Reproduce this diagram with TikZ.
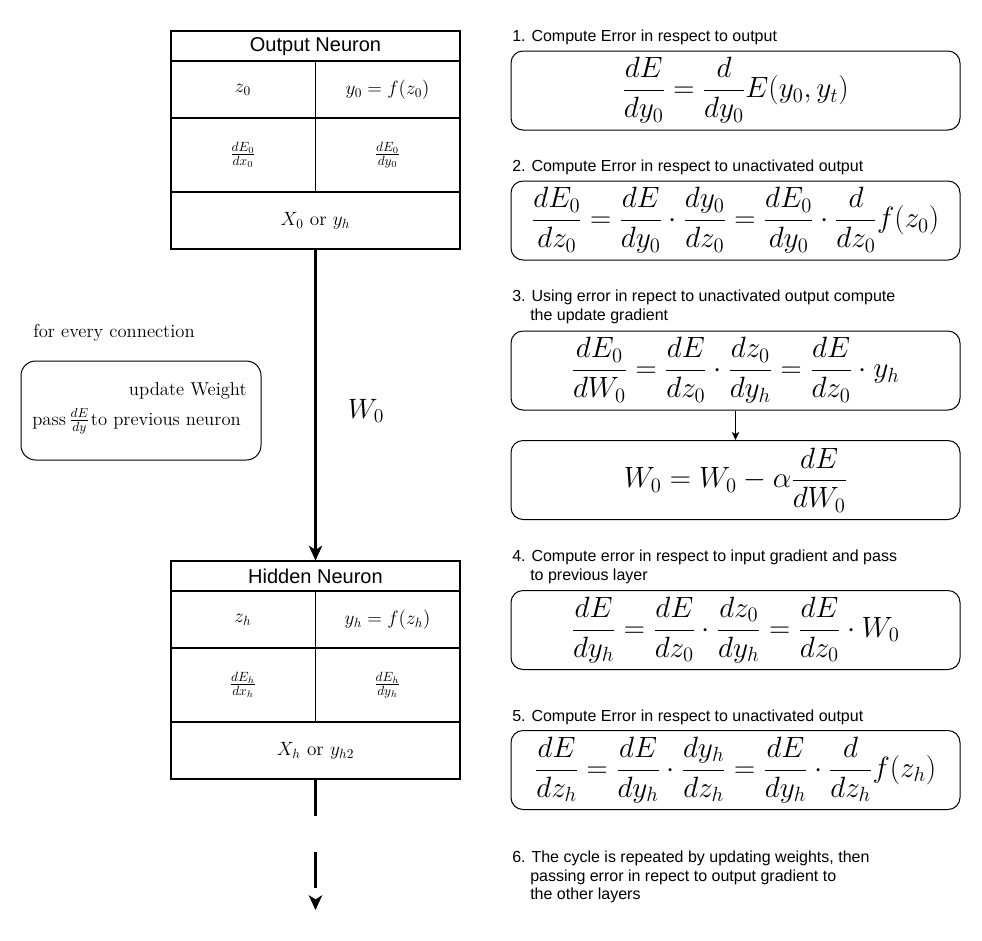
\RequirePackage{fix-cm}
\documentclass[tikz,border=0pt]{standalone}
\usepackage{fontspec}
\newfontfamily\sansfont{Liberation Sans}
\usetikzlibrary{arrows.meta}

\begin{document}
\begin{tikzpicture}[x=0.75pt,y=-0.75pt,
  neuron/.style={draw, line width=0.8pt, inner sep=0pt,
    minimum width=216.75pt, minimum height=163.5pt},
  divider/.style={line width=0.8pt},
  neurontitle/.style={inner sep=0pt, font=\sansfont\fontsize{15}{18}\selectfont},
  cellmath/.style={inner sep=0pt, font=\fontsize{14.4}{17}\selectfont},
  serif/.style={inner sep=0pt, font=\fontsize{14}{16}\selectfont},
  eqbox/.style={draw, line width=0.75pt, rounded corners=9pt, inner sep=0pt,
    minimum width=336.75pt, minimum height=59.25pt,
    font=\fontsize{22}{26}\selectfont},
  steplabel/.style={anchor=base west, inner sep=0pt,
    font=\sansfont\fontsize{12}{15}\selectfont},
  bigarrow/.style={line width=2.25pt, -{Stealth[length=11pt, width=10pt, inset=3pt]}},
  smallarrow/.style={line width=0.75pt, -{Stealth[length=6pt, width=5.5pt, inset=1.5pt]}}
]
\useasboundingbox (0,0) rectangle (982,940);

% ---------- output neuron ----------
\node[neuron] (out) at (315.5,140) {};
\draw[divider] (171,61) -- (460,61);
\draw[divider] (171,118) -- (460,118);
\draw[divider] (171,192) -- (460,192);
\draw[divider] (315.5,61) -- (315.5,192);
\node[neurontitle] (outtitle) at (315.5,46.5) {Output Neuron};
\node[cellmath] (outz) at (243,89.5) {$z_0$};
\node[cellmath] (outy) at (387.5,89.5) {$y_0=f(z_0)$};
\node[cellmath] (outdx) at (243,155) {$\frac{dE_0}{dx_0}$};
\node[cellmath] (outdy) at (387.5,155) {$\frac{dE_0}{dy_0}$};
\node[cellmath] (outin) at (315.5,220.5) {$X_0$ or $y_h$};

% ---------- hidden neuron ----------
\node[neuron] (hid) at (315.5,670) {};
\draw[divider] (171,591) -- (460,591);
\draw[divider] (171,648) -- (460,648);
\draw[divider] (171,722) -- (460,722);
\draw[divider] (315.5,591) -- (315.5,722);
\node[neurontitle] (hidtitle) at (315.5,576.5) {Hidden Neuron};
\node[cellmath] (hidz) at (243,619.5) {$z_h$};
\node[cellmath] (hidy) at (387.5,619.5) {$y_h=f(z_h)$};
\node[cellmath] (hiddx) at (243,685) {$\frac{dE_h}{dx_h}$};
\node[cellmath] (hiddy) at (387.5,685) {$\frac{dE_h}{dy_h}$};
\node[cellmath] (hidin) at (315.5,750.5) {$X_h$ or $y_{h2}$};

% ---------- weight connection ----------
\draw[bigarrow] (out) -- (hid);
\node[inner sep=0pt, font=\fontsize{21}{24}\selectfont] (w0) at (366,411) {$W_0$};
\coordinate (prev) at (315.5,910);
\draw[bigarrow, dash pattern=on 27pt off 27pt] (hid) -- (prev);

% ---------- per-connection note ----------
\node[serif, anchor=base west] (every) at (33,337) {for every connection};
\node[draw, line width=0.75pt, rounded corners=11pt, minimum width=180pt,
  minimum height=74.25pt, inner sep=0pt] (conn) at (141,410.5) {};
\node[serif, anchor=base east] (upd) at (247,395) {update Weight};
\node[serif, anchor=base west] (pass) at (32,425)
  {pass$\,\frac{dE}{dy}\mkern1mu$to previous neuron};

% ---------- steps ----------
\node[steplabel] (s1) at (512,41) {1. Compute Error in respect to output};
\node[eqbox] (eq1) at (735.5,90.5)
  {$\displaystyle \frac{dE}{dy_0} = \frac{d}{dy_0}E(y_0,y_t)$};

\node[steplabel] (s2) at (512,171) {2. Compute Error in respect to unactivated output};
\node[eqbox] (eq2) at (735.5,220.5)
  {$\displaystyle \frac{dE_0}{dz_0} = \frac{dE}{dy_0}\cdot\frac{dy_0}{dz_0}
    = \frac{dE_0}{dy_0}\cdot\frac{d}{dz_0}f(z_0)$};

\node[steplabel] (s3a) at (512,301) {3. Using error in repect to unactivated output compute};
\node[steplabel] (s3b) at (530,320) {the update gradient};
\node[eqbox] (eq3) at (735.5,370.5)
  {$\displaystyle \frac{dE_0}{dW_0} = \frac{dE}{dz_0}\cdot\frac{dz_0}{dy_h}
    = \frac{dE}{dz_0}\cdot y_h$};
\node[eqbox] (eq3b) at (735.5,480)
  {$\displaystyle W_0 = W_0 - \alpha\frac{dE}{dW_0}$};
\draw[smallarrow] (eq3) -- (eq3b);

\node[steplabel] (s4a) at (512,561) {4. Compute error in respect to input gradient and pass};
\node[steplabel] (s4b) at (530,580.5) {to previous layer};
\node[eqbox] (eq4) at (735.5,630)
  {$\displaystyle \frac{dE}{dy_h} = \frac{dE}{dz_0}\cdot\frac{dz_0}{dy_h}
    = \frac{dE}{dz_0}\cdot W_0$};

\node[steplabel] (s5) at (512,721) {5. Compute Error in respect to unactivated output};
\node[eqbox] (eq5) at (735.5,770)
  {$\displaystyle \frac{dE}{dz_h} = \frac{dE}{dy_h}\cdot\frac{dy_h}{dz_h}
    = \frac{dE}{dy_h}\cdot\frac{d}{dz_h}f(z_h)$};

\node[steplabel] (s6a) at (512,862) {6. The cycle is repeated by updating weights, then};
\node[steplabel] (s6b) at (530,881) {passing error in repect to output gradient to};
\node[steplabel] (s6c) at (530,899) {the other layers};
\end{tikzpicture}
\end{document}
